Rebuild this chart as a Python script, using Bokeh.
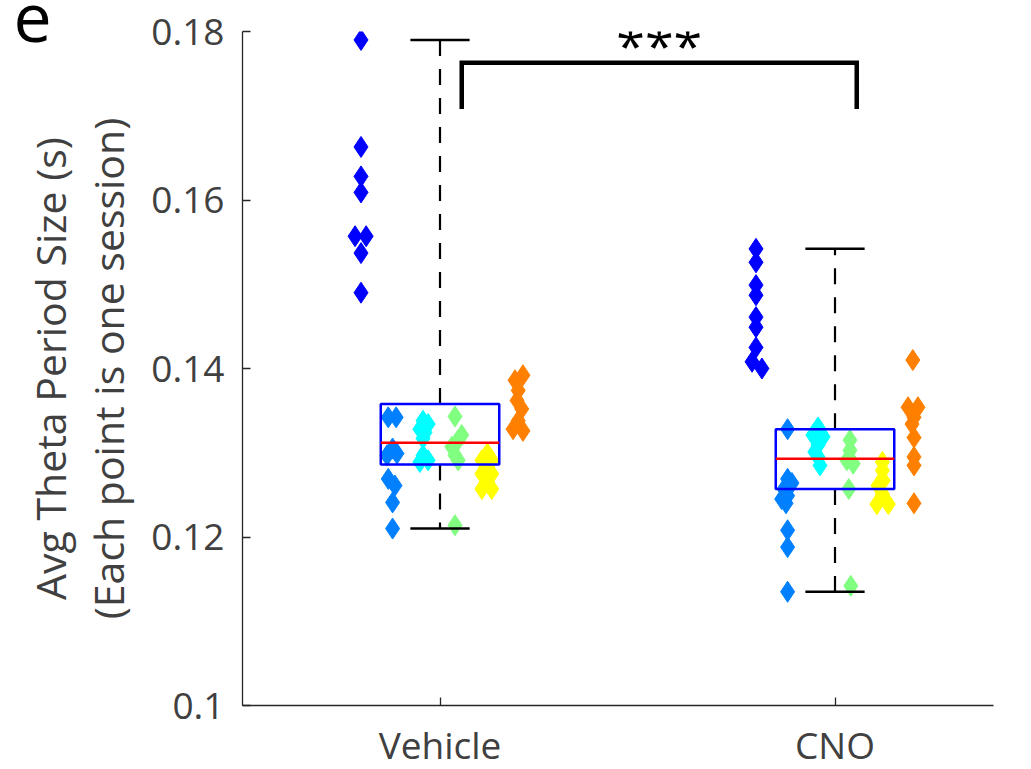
from bokeh.plotting import figure
from bokeh.models import FixedTicker, Label, ColumnDataSource
from bokeh.embed import file_html
from bokeh.resources import INLINE

# ---------------- data ----------------
conditions = ["Vehicle", "CNO"]
positions = [1, 2]
animal_colors = ["#0000ff", "#0080ff", "#00ffff", "#80ff80", "#ffff00", "#ff8000"]
animal_offsets = [-0.2, -0.12, -0.04, 0.04, 0.12, 0.2]

# Vehicle sessions (animal index, value, horizontal jitter)
vehicle_animal = [0, 0, 0, 0, 0, 0, 0, 0,
                  1, 1, 1, 1, 1, 1, 1, 1, 1,
                  2, 2, 2, 2, 2, 2, 2, 2,
                  3, 3, 3, 3, 3, 3, 3,
                  4, 4, 4, 4, 4, 4, 4, 4, 4,
                  5, 5, 5, 5, 5, 5, 5, 5]
vehicle_values = [0.1790, 0.1663, 0.1628, 0.1609, 0.1557, 0.1557, 0.1537, 0.1490,
                  0.1342, 0.1342, 0.1305, 0.1297, 0.1299, 0.1269, 0.1261, 0.1241, 0.1210,
                  0.1338, 0.1334, 0.1328, 0.1324, 0.1317, 0.1297, 0.1291, 0.1289,
                  0.1343, 0.1321, 0.1313, 0.1307, 0.1297, 0.1291, 0.1214,
                  0.1299, 0.1291, 0.1291, 0.1283, 0.1275, 0.1275, 0.1267, 0.1257, 0.1257,
                  0.1392, 0.1386, 0.1374, 0.1362, 0.1352, 0.1338, 0.1328, 0.1326]
vehicle_jitter = [0.0, 0.0, 0.0, 0.0, -0.015, 0.013, 0.0, 0.0,
                  -0.011, 0.009, 0.0, -0.014, 0.011, -0.011, 0.006, 0.0, 0.0,
                  -0.003, 0.010, -0.011, 0.002, -0.003, -0.003, 0.010, -0.011,
                  -0.002, 0.015, 0.003, -0.010, -0.002, 0.006, -0.002,
                  0.0, -0.014, 0.011, 0.0, -0.014, 0.011, 0.0, -0.014, 0.011,
                  0.010, -0.010, -0.002, -0.005, 0.007, -0.002, -0.015, 0.010]

# CNO sessions
cno_animal = [0, 0, 0, 0, 0, 0, 0, 0, 0,
              1, 1, 1, 1, 1, 1, 1, 1, 1, 1,
              2, 2, 2, 2, 2, 2, 2,
              3, 3, 3, 3, 3, 3,
              4, 4, 4, 4, 4, 4, 4,
              5, 5, 5, 5, 5, 5, 5, 5, 5]
cno_values = [0.1542, 0.1526, 0.1499, 0.1487, 0.1461, 0.1449, 0.1425, 0.1408, 0.1400,
              0.1328, 0.1269, 0.1264, 0.1257, 0.1249, 0.1245, 0.1240, 0.1208, 0.1188, 0.1135,
              0.1330, 0.1321, 0.1319, 0.1309, 0.1301, 0.1295, 0.1285,
              0.1315, 0.1303, 0.1291, 0.1287, 0.1257, 0.1142,
              0.1289, 0.1279, 0.1267, 0.1261, 0.1251, 0.1239, 0.1239,
              0.1410, 0.1354, 0.1354, 0.1342, 0.1334, 0.1318, 0.1295, 0.1285, 0.1240]
cno_jitter = [0.0, 0.0, 0.0, 0.0, 0.0, 0.0, 0.0, -0.010, 0.015,
              0.0, 0.0, 0.011, -0.009, 0.0, -0.015, -0.004, 0.0, 0.0, 0.0,
              -0.003, -0.016, 0.010, -0.003, -0.011, -0.003, 0.002,
              -0.002, -0.002, -0.010, 0.006, -0.005, 0.0,
              0.0, 0.0, 0.002, -0.011, 0.0, -0.014, 0.015,
              -0.003, -0.015, 0.010, 0.0, -0.005, 0.0, 0.0, 0.0, 0.0]

# box-plot statistics (Vehicle, CNO)
box_q1 = [0.1286, 0.1257]
box_median = [0.1312, 0.1293]
box_q3 = [0.1358, 0.1328]
whisker_low = [0.1210, 0.1135]
whisker_high = [0.1790, 0.1542]

# significance bracket
sig_x = [1.055, 1.055, 2.055, 2.055]
sig_y = [0.1708, 0.1763, 0.1763, 0.1708]
sig_text = "***"

y_ticks = [0.1, 0.12, 0.14, 0.16, 0.18]
y_tick_labels = ["0.1", "0.12", "0.14", "0.16", "0.18"]
y_label = "Avg Theta Period Size (s)\n(Each point is one session)"
panel_letter = "e"

# ---------------- figure ----------------
FONT = "Open Sans"
TXT = "#404040"
box_w = 0.3
cap_w = 0.15
px_per_unit = 395.0
frame_w = 751
x_end = 0.5 + frame_w / px_per_unit

p = figure(frame_width=frame_w, frame_height=674, x_range=(0.5, x_end), y_range=(0.1, 0.18),
           output_backend="svg", toolbar_location=None,
           min_border_left=242, min_border_right=0, min_border_top=31, min_border_bottom=0)
p.outline_line_color = None
p.xgrid.visible = False
p.ygrid.visible = False
p.background_fill_color = "white"
p.border_fill_color = "white"

# points
for pos, animals, vals, jit in [(positions[0], vehicle_animal, vehicle_values, vehicle_jitter),
                                (positions[1], cno_animal, cno_values, cno_jitter)]:
    xs = [pos + animal_offsets[a] + j for a, j in zip(animals, jit)]
    cols = [animal_colors[a] for a in animals]
    src = ColumnDataSource(dict(x=xs, y=vals, c=cols))
    p.scatter("x", "y", source=src, marker="diamond", size=21,
              fill_color="c", line_color="c", line_width=1)

# whiskers
p.segment(x0=positions, y0=box_q3, x1=positions, y1=whisker_high,
          line_color="black", line_width=2.2, line_dash="16 13")
p.segment(x0=positions, y0=box_q1, x1=positions, y1=whisker_low,
          line_color="black", line_width=2.2, line_dash="16 13")
# caps
p.segment(x0=[x - cap_w / 2 for x in positions], y0=whisker_high,
          x1=[x + cap_w / 2 for x in positions], y1=whisker_high,
          line_color="black", line_width=2.5)
p.segment(x0=[x - cap_w / 2 for x in positions], y0=whisker_low,
          x1=[x + cap_w / 2 for x in positions], y1=whisker_low,
          line_color="black", line_width=2.5)
# boxes
p.quad(left=[x - box_w / 2 for x in positions], right=[x + box_w / 2 for x in positions],
       bottom=box_q1, top=box_q3, fill_color=None, line_color="#0000ff", line_width=2.5)
# medians
p.segment(x0=[x - box_w / 2 for x in positions], y0=box_median,
          x1=[x + box_w / 2 for x in positions], y1=box_median,
          line_color="#ff0000", line_width=2.5)

# significance bracket
p.line(sig_x, sig_y, line_color="black", line_width=4.5, line_join="miter")
p.add_layout(Label(x=(sig_x[0] + sig_x[2]) / 2, y=0.1785, text=sig_text,
                   text_align="center", text_baseline="alphabetic",
                   text_font=FONT, text_font_size="52px", text_color="black"))

# panel letter: held in a side panel so it is not clipped to the frame
p.add_layout(Label(x=13, y=17, x_units="canvas", y_units="canvas", text=panel_letter,
                   text_align="left", text_baseline="alphabetic", text_font=FONT,
                   text_font_size="68px", text_color="black"), "right")

# axes
for ax in (p.xaxis[0], p.yaxis[0]):
    ax.axis_line_color = "#262626"
    ax.axis_line_width = 1.3
    ax.major_tick_line_color = "#262626"
    ax.major_tick_line_width = 1.3
    ax.major_tick_in = 8
    ax.major_tick_out = 0
    ax.minor_tick_line_color = None
    ax.major_label_text_font = FONT
    ax.major_label_text_font_size = "37px"
    ax.major_label_text_color = TXT

p.xaxis.ticker = FixedTicker(ticks=positions)
p.xaxis.major_label_overrides = {pos: name for pos, name in zip(positions, conditions)}
p.xaxis.major_label_standoff = 13

p.yaxis.ticker = FixedTicker(ticks=y_ticks)
p.yaxis.major_label_overrides = {t: s for t, s in zip(y_ticks, y_tick_labels)}
p.yaxis.major_label_standoff = 18
p.yaxis.axis_label = y_label
p.yaxis.axis_label_text_font = FONT
p.yaxis.axis_label_text_font_size = "41px"
p.yaxis.axis_label_text_font_style = "normal"
p.yaxis.axis_label_text_color = TXT
p.yaxis.axis_label_standoff = 12
p.yaxis.axis_label_text_line_height = 1.05

open("out.html", "w").write(file_html(p, INLINE))
